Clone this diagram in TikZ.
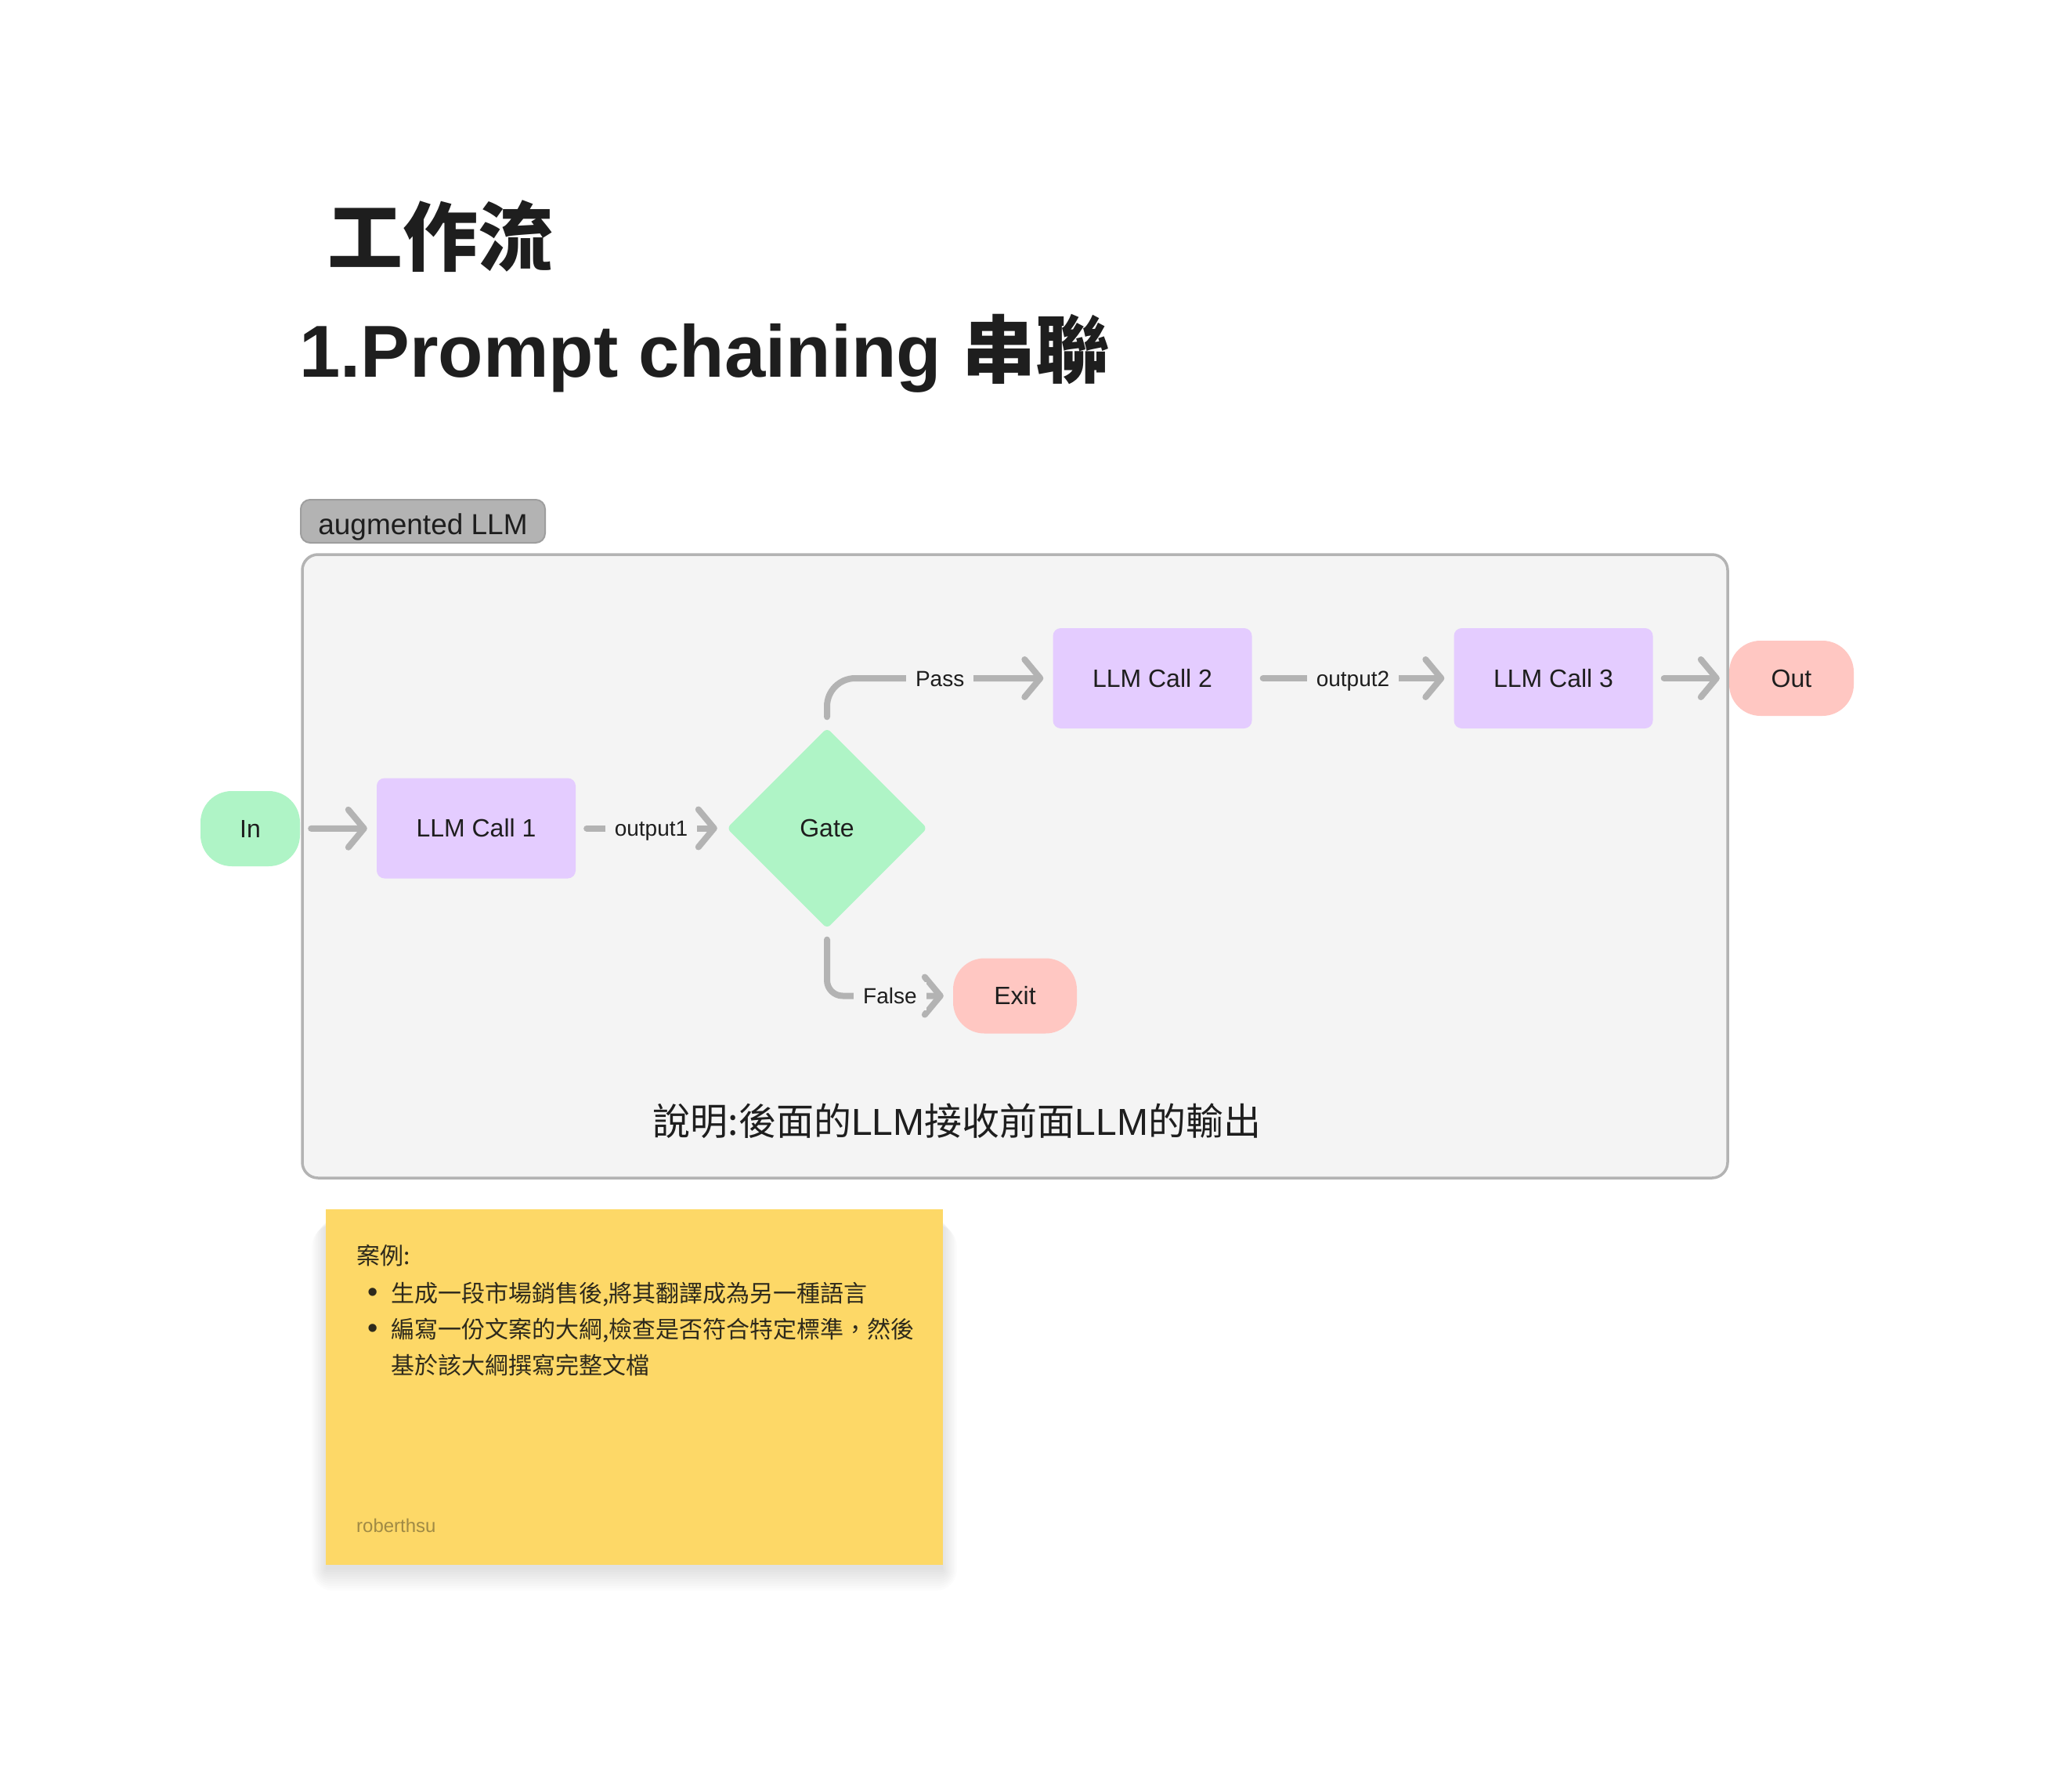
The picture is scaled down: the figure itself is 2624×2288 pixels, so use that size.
\documentclass[tikz,border=0pt]{standalone}
\usepackage{fontspec}
\setmainfont{Liberation Sans}
\newfontfamily\cjk{Noto Sans CJK TC}
\usetikzlibrary{shapes.geometric,arrows.meta}
\definecolor{bg}{HTML}{F4F4F4}
\definecolor{border}{HTML}{B3B3B3}
\definecolor{edge}{HTML}{B3B3B3}
\definecolor{tag}{HTML}{B3B3B3}
\definecolor{tagb}{HTML}{9E9E9E}
\definecolor{grn}{HTML}{AFF4C6}
\definecolor{lav}{HTML}{E4CCFF}
\definecolor{pnk}{HTML}{FFC7C2}
\definecolor{yel}{HTML}{FDD867}
\definecolor{txt}{HTML}{1E1E1E}
\definecolor{ntxt}{HTML}{2E2A1C}
\definecolor{sign}{HTML}{A08A45}
\newcommand\fs[1]{\fontsize{#1}{#1}\selectfont}
\begin{document}
\begin{tikzpicture}[x=1pt,y=-1pt,
  every node/.style={inner sep=0pt, text=txt},
  llm/.style={rectangle, rounded corners=10pt, fill=lav, minimum width=254pt, minimum height=128pt, font=\fs{32}},
  term/.style={rectangle, rounded corners=40pt, minimum height=96pt, font=\fs{32}},
  conn/.style={draw=edge, line width=8pt, line cap=round, line join=round, shorten <=14pt, shorten >=12pt, -{Straight Barb[length=20pt,width=48pt,round]}},
  elabel/.style={sharp corners, fill=bg, inner xsep=12pt, inner ysep=8pt, text height=20pt, text depth=0pt, font=\fs{28}},
  notetxt/.style={anchor=base west, font=\cjk\fs{30}, text=ntxt},
  bul/.style={font=\fs{38}, text=ntxt}
]
\fill[white] (0,0) rectangle (2624,2288);
\useasboundingbox (0,0) rectangle (2624,2288);

% titles
\node[anchor=base west, font=\cjk\bfseries\fs{96}] (t1) at (418,338) {工作流};
\node[anchor=base west, font=\bfseries\fs{94}] (t2) at (382,481) {1.Prompt chaining {\cjk 串聯}};

% tag and frame
\node[draw=tagb, fill=tag, rounded corners=12pt, line width=2pt, minimum width=312pt, minimum height=55pt, text height=33pt, text depth=0pt, font=\fs{37}] (tag) at (540,665.5) {augmented LLM};
\node[draw=border, fill=bg, line width=3.5pt, rounded corners=20pt, minimum width=1820pt, minimum height=796pt] (frame) at (1296,1106) {};

% nodes
\node[term, fill=grn, minimum width=127pt] (in) at (319.5,1058) {In};
\node[llm] (c1) at (608,1057.5) {LLM Call 1};
\node[diamond, fill=grn, minimum width=256pt, minimum height=256pt, aspect=1, rounded corners=6pt, font=\fs{32}] (gate) at (1056,1057.5) {Gate};
\node[llm] (c2) at (1471.5,866) {LLM Call 2};
\node[llm] (c3) at (1983.5,866) {LLM Call 3};
\node[term, fill=pnk, minimum width=159pt] (out) at (2287.5,866) {Out};
\node[term, fill=pnk, minimum width=158pt] (exit) at (1296,1271.5) {Exit};

% connectors
\draw[conn] (in) -- (c1);
\draw[conn] (c1) -- node[elabel] {output1} (gate);
\draw[conn, rounded corners=36pt] (gate.north) |- node[elabel, pos=0.75] {Pass} (c2.west);
\draw[conn] (c2) -- node[elabel] {output2} (c3);
\draw[conn] (c3) -- (out);
\draw[conn, rounded corners=20pt] (gate.south) |- node[elabel, pos=0.75] {False} (exit.west);

% caption
\node[anchor=base, font=\cjk\fs{48}] (cap) at (1222,1449) {說明:後面的{\rmfamily LLM}接收前面{\rmfamily LLM}的輸出};

% sticky note
\foreach \i in {0,...,9}{
  \fill[black, opacity=0.011, rounded corners=\i*3pt] ({416-\i*2},{1560+\i*0.5}) rectangle ({1204+\i*2},{2004+\i*3});
}
\node[fill=yel, minimum width=788pt, minimum height=454pt] (note) at (810,1771) {};
\node[notetxt] (l0) at (455,1614) {案例:};
\node[bul] (b1) at (476,1654) {•};
\node[notetxt] (l1) at (499,1662) {生成一段市場銷售後,將其翻譯成為另一種語言};
\node[bul] (b2) at (476,1700) {•};
\node[notetxt] (l2) at (499,1708) {編寫一份文案的大綱,檢查是否符合特定標準，然後};
\node[notetxt] (l3) at (499,1754) {基於該大綱撰寫完整文檔};
\node[anchor=base west, font=\fs{24}, text=sign] (sig) at (455,1956) {roberthsu};
\end{tikzpicture}
\end{document}
